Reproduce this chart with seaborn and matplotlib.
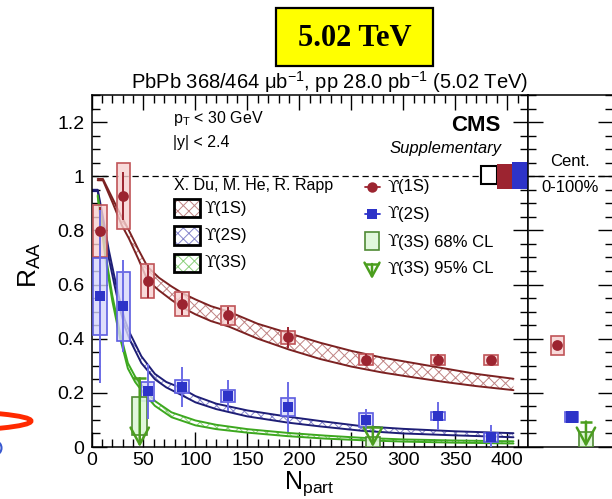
import numpy as np
import pandas as pd
import matplotlib
matplotlib.use("Agg")
import matplotlib.pyplot as plt
import seaborn as sns
from matplotlib.patches import Rectangle, Ellipse
from matplotlib.lines import Line2D
from matplotlib.ticker import MultipleLocator, FuncFormatter

# ---------------- data ----------------
npart = [8.1, 30.6, 53.9, 86.9, 131.4, 189.2, 264.2, 333.3, 384.3]

raa_1s = [0.797, 0.927, 0.612, 0.528, 0.486, 0.405, 0.322, 0.322, 0.320]
stat_1s = [0.09, 0.09, 0.06, 0.04, 0.03, 0.039, 0.02, 0.02, 0.015]
syst_1s = [0.097, 0.122, 0.063, 0.046, 0.036, 0.025, 0.020, 0.018, 0.018]

raa_2s = [0.557, 0.520, 0.205, 0.223, 0.190, 0.149, 0.100, 0.115, 0.036]
stat_2s = [0.32, 0.17, 0.10, 0.074, 0.057, 0.092, 0.042, 0.052, 0.045]
syst_2s = [0.142, 0.127, 0.034, 0.024, 0.022, 0.033, 0.027, 0.016, 0.016]

# Upsilon(3S): 68% CL intervals and 95% CL upper limits
npart_3s = [46.4, 270.7]
cl68_lo_3s = [0.044, 0.0]
cl68_hi_3s = [0.184, 0.036]
cl95_3s = [0.254, 0.075]

# Centrality-integrated (0-100%)
int_states = ["1S", "2S", "3S"]
int_raa = [0.376, 0.112]
int_stat = [0.012, 0.012]
int_syst = [0.035, 0.018]
int_cl68_hi_3s = 0.057
int_cl95_3s = 0.094

# Global uncertainties around unity: pp, 1S, 2S
glob_lo = [0.973, 0.954, 0.954]
glob_hi = [1.036, 1.044, 1.051]

# Du, He, Rapp transport model bands
th1_n = [6, 11, 20, 29, 36, 45, 54, 65, 77, 88, 100, 115, 132, 160, 190, 220, 250, 280, 310, 340, 370, 406]
th1_hi = [0.99, 0.99, 0.92, 0.85, 0.80, 0.73, 0.665, 0.625, 0.593, 0.567, 0.545, 0.52, 0.50,
          0.455, 0.42, 0.385, 0.355, 0.33, 0.31, 0.29, 0.27, 0.252]
th1_lo = [0.985, 0.985, 0.905, 0.82, 0.77, 0.695, 0.615, 0.578, 0.543, 0.514, 0.49, 0.465, 0.445,
          0.40, 0.36, 0.325, 0.297, 0.275, 0.257, 0.24, 0.225, 0.21]

th2_n = [1, 6, 11, 16.5, 22, 27, 32, 37, 48, 61, 72, 85, 100, 120, 150, 189, 220, 260, 300, 350, 406]
th2_hi = [0.95, 0.95, 0.85, 0.73, 0.63, 0.545, 0.47, 0.42, 0.335, 0.27, 0.24, 0.22, 0.188,
          0.16, 0.135, 0.112, 0.096, 0.077, 0.067, 0.058, 0.051]
th2_lo = [0.945, 0.945, 0.82, 0.70, 0.60, 0.515, 0.445, 0.395, 0.31, 0.25, 0.22, 0.195, 0.165,
          0.14, 0.113, 0.09, 0.076, 0.06, 0.05, 0.043, 0.036]

th3_n = [6, 10, 14, 20, 27, 35, 42, 48, 55, 61, 77, 100, 120, 150, 189, 225, 260, 300, 350, 406]
th3_hi = [0.93, 0.82, 0.70, 0.56, 0.43, 0.31, 0.26, 0.23, 0.195, 0.17, 0.128, 0.098, 0.082,
          0.066, 0.052, 0.042, 0.034, 0.028, 0.024, 0.021]
th3_lo = [0.925, 0.80, 0.68, 0.54, 0.41, 0.29, 0.24, 0.21, 0.178, 0.152, 0.11, 0.08, 0.066,
          0.053, 0.04, 0.031, 0.025, 0.02, 0.016, 0.013]

# ---------------- style ----------------
sns.set_theme(style="ticks")
plt.rcParams["font.family"] = ["Liberation Sans", "DejaVu Sans"]
plt.rcParams["mathtext.fontset"] = "custom"
plt.rcParams["mathtext.rm"] = "Liberation Sans"
plt.rcParams["mathtext.it"] = "Liberation Sans:italic"
plt.rcParams["hatch.linewidth"] = 0.7
plt.rcParams["axes.edgecolor"] = "black"
plt.rcParams["xtick.color"] = "black"
plt.rcParams["ytick.color"] = "black"
plt.rcParams["text.color"] = "black"

RED = "#9c2430"
RED_FC = (0.97, 0.82, 0.82, 0.8)
RED_EC = "#c05458"
RED_BAND = "#7c2222"
RED_HATCH = "#c08484"
BLUE = "#2d33c8"
BLUE_FC = (0.84, 0.84, 0.98, 0.8)
BLUE_EC = "#5c5ce0"
BLUE_STAT = "#6b6be6"
BLUE_BAND = "#1e1e76"
BLUE_HATCH = "#8585cc"
GREEN = "#4b9e1e"
GREEN_FC = (0.87, 0.97, 0.85, 0.9)
GREEN_EC = "#4f8a34"
GREEN_BAND = "#3da81f"
GREEN_HATCH = "#8cd07c"

W, H = 612, 499
fig = plt.figure(figsize=(W / 100, H / 100), dpi=100)
fig.patch.set_facecolor("white")


def fpos(x, y):
    return x / W, 1 - y / H


def ftext(x, y, s, **kw):
    fx, fy = fpos(x, y)
    return fig.text(fx, fy, s, **kw)


def upsilon_text(x, y, rest, size=12):
    # curly Upsilon in a serif face followed by the state label
    ftext(x, y, "ϒ", family="DejaVu Serif", va="center", fontsize=size)
    ftext(x + 0.9 * size, y, rest, va="center", fontsize=size)


ax = fig.add_axes([91.5 / W, 1 - 447 / H, (528 - 91.5) / W, (447 - 95) / H])
axr = fig.add_axes([528 / W, 1 - 447 / H, (612.5 - 528) / W, (447 - 95) / H])
for a in (ax, axr):
    a.set_facecolor("white")
    for sp in a.spines.values():
        sp.set_linewidth(1.1)
        sp.set_color("black")
        sp.set_visible(True)

# ---------------- main panel ----------------
ax.set_xlim(0, 420)
ax.set_ylim(0, 1.3)


def band(n, lo, hi, edge, hatchc):
    ax.fill_between(n, lo, hi, facecolor="none", edgecolor=hatchc, hatch="xxx",
                    linewidth=0, zorder=2)
    sns.lineplot(x=n, y=hi, ax=ax, color=edge, lw=1.4, zorder=2.5, estimator=None, sort=False)
    sns.lineplot(x=n, y=lo, ax=ax, color=edge, lw=1.4, zorder=2.5, estimator=None, sort=False)


band(th1_n, th1_lo, th1_hi, RED_BAND, RED_HATCH)
band(th2_n, th2_lo, th2_hi, BLUE_BAND, BLUE_HATCH)
band(th3_n, th3_lo, th3_hi, GREEN_BAND, GREEN_HATCH)

ax.axhline(1.0, color="black", lw=0.9, ls=(0, (5, 3)), zorder=1)

# systematic boxes
r1 = np.array(raa_1s); s1 = np.array(syst_1s)
r2 = np.array(raa_2s); s2 = np.array(syst_2s)
ax.bar(npart, 2 * s1, bottom=r1 - s1, width=13, color=RED_FC, edgecolor=RED_EC, linewidth=1.2, zorder=3)
ax.bar(npart, 2 * s2, bottom=r2 - s2, width=13, color=BLUE_FC, edgecolor=BLUE_EC, linewidth=1.2, zorder=3)

# statistical errors
ax.errorbar(npart, raa_1s, yerr=stat_1s, fmt="none", ecolor=RED, elinewidth=1.4, capsize=0, zorder=4)
ax.errorbar(npart, raa_2s, yerr=stat_2s, fmt="none", ecolor=BLUE_STAT, elinewidth=1.4, capsize=0, zorder=4)

df1 = pd.DataFrame({"npart": npart, "raa": raa_1s})
df2 = pd.DataFrame({"npart": npart, "raa": raa_2s})
sns.scatterplot(data=df1, x="npart", y="raa", ax=ax, marker="o", s=60, color=RED,
                linewidth=0, zorder=5, legend=False)
sns.scatterplot(data=df2, x="npart", y="raa", ax=ax, marker="s", s=50, color=BLUE,
                linewidth=0, zorder=5, legend=False)

# Upsilon(3S) limits
lo3 = np.array(cl68_lo_3s); hi3 = np.array(cl68_hi_3s)
ax.bar(npart_3s, hi3 - lo3, bottom=lo3, width=14, color=GREEN_FC, edgecolor=GREEN_EC,
       linewidth=1.2, zorder=3)
arrow_style = "->,head_length=0.55,head_width=0.3"
for n, lim in zip(npart_3s, cl95_3s):
    ax.annotate("", xy=(n, 0), xytext=(n, lim),
                arrowprops=dict(arrowstyle=arrow_style, color=GREEN, lw=1.8,
                                shrinkA=0, shrinkB=0, mutation_scale=22), zorder=6)
    ax.hlines(lim, n - 6.5, n + 6.5, color=GREEN, lw=1.8, zorder=6)

# global uncertainty boxes at unity
gw = 15
gx = [420 - gw * (len(glob_lo) - i - 0.5) for i in range(len(glob_lo))]
glo = np.array(glob_lo); ghi = np.array(glob_hi)
ax.bar(gx, ghi - glo, bottom=glo, width=gw, color=["white", RED, BLUE],
       edgecolor=["black", RED, BLUE], linewidth=[1.5, 0, 0], zorder=6, clip_on=False)

ax.xaxis.set_major_locator(MultipleLocator(50))
ax.xaxis.set_minor_locator(MultipleLocator(10))
ax.yaxis.set_major_locator(MultipleLocator(0.2))
ax.yaxis.set_minor_locator(MultipleLocator(0.05))
ax.yaxis.set_major_formatter(FuncFormatter(lambda v, p: f"{v:g}"))
ax.tick_params(axis="both", which="major", direction="in", length=11, width=1,
               top=True, right=True, labelsize=14)
ax.tick_params(axis="both", which="minor", direction="in", length=6, width=1,
               top=True, right=True)
ax.tick_params(axis="y", which="major", pad=5)
ax.tick_params(axis="x", which="major", pad=3.5)
ax.set_xlabel("")
ax.set_ylabel("")

# ---------------- integrated panel ----------------
axr.set_ylim(0, 1.3)
axr.set_xlim(-2.04, 3.85)
axr.axhline(1.0, color="black", lw=0.9, ls=(0, (5, 3)), zorder=1)
xi = np.arange(len(int_raa))
ri = np.array(int_raa); si = np.array(int_syst)
axr.bar(xi, 2 * si, bottom=ri - si, width=0.92, color=[RED_FC, BLUE_FC],
        edgecolor=[RED_EC, BLUE_EC], linewidth=1.2, zorder=3)
axr.errorbar(xi, int_raa, yerr=int_stat, fmt="none", ecolor=[RED, BLUE_STAT],
             elinewidth=1.4, capsize=0, zorder=4)
sns.scatterplot(x=[xi[0]], y=[int_raa[0]], ax=axr, marker="o", s=60, color=RED,
                linewidth=0, zorder=5, legend=False)
sns.scatterplot(x=[xi[1]], y=[int_raa[1]], ax=axr, marker="s", s=75, color=BLUE,
                linewidth=0, zorder=5, legend=False)
x3 = int_states.index("3S")
axr.bar([x3], [int_cl68_hi_3s], bottom=[0], width=0.95, color=GREEN_FC, edgecolor=GREEN_EC,
        linewidth=1.2, zorder=3)
axr.annotate("", xy=(x3, 0), xytext=(x3, int_cl95_3s),
             arrowprops=dict(arrowstyle=arrow_style, color=GREEN, lw=1.8,
                             shrinkA=0, shrinkB=0, mutation_scale=22), zorder=6)
axr.hlines(int_cl95_3s, x3 - 0.42, x3 + 0.42, color=GREEN, lw=1.8, zorder=6)

axr.yaxis.set_major_locator(MultipleLocator(0.2))
axr.yaxis.set_minor_locator(MultipleLocator(0.05))
axr.set_xticks([])
axr.tick_params(axis="y", which="major", direction="in", length=11, width=1,
                left=True, right=True, labelleft=False)
axr.tick_params(axis="y", which="minor", direction="in", length=6, width=1,
                left=True, right=True)
axr.set_xlabel("")
axr.set_ylabel("")

ftext(570, 162, "Cent.", ha="center", va="center", fontsize=12)
ftext(570.5, 187, "0-100%", ha="center", va="center", fontsize=12)

# ---------------- titles and labels ----------------
fig.add_artist(Rectangle(fpos(276, 66), 157 / W, 58 / H, transform=fig.transFigure,
                         facecolor="#ffff00", edgecolor="black", lw=1.6))
ftext(354.5, 38, "5.02 TeV", family="Liberation Serif", weight="bold", fontsize=22,
      ha="center", va="center")
ftext(528, 89, "PbPb 368/464 μb$^{-1}$, pp 28.0 pb$^{-1}$ (5.02 TeV)", ha="right",
      va="baseline", fontsize=14.5)

ftext(30, 265, "R$_{\\mathrm{AA}}$", rotation=90, ha="center", va="center", fontsize=19)
ftext(309, 498.5, "N$_{\\mathrm{part}}$", ha="center", va="bottom", fontsize=18)

ftext(173, 123, "p$_{\\mathrm{T}}$ < 30 GeV", va="baseline", fontsize=11.5)
ftext(173, 147, "|y| < 2.4", va="baseline", fontsize=11.5)
ftext(500, 131, "CMS", weight="bold", fontsize=16, ha="right", va="baseline")
ftext(502, 153, "Supplementary", style="italic", fontsize=12, ha="right", va="baseline")

# model legend
ftext(174, 190, "X. Du, M. He, R. Rapp", va="baseline", fontsize=11.5)
model_rows = [("(1S)", RED_HATCH, 199.5), ("(2S)", BLUE_HATCH, 226.5), ("(3S)", GREEN_HATCH, 253.5)]
for label, hc, ytop in model_rows:
    fig.add_artist(Rectangle(fpos(174, ytop + 18), 25.5 / W, 18 / H, transform=fig.transFigure,
                             facecolor="white", edgecolor=hc, hatch="xxx", lw=0))
    fig.add_artist(Rectangle(fpos(174, ytop + 18), 25.5 / W, 18 / H, transform=fig.transFigure,
                             facecolor="none", edgecolor="black", lw=2))
    upsilon_text(204, ytop + 9, label)

# data legend
for y, col, mk, ms in [(186.7, RED, "o", 7.5), (214.3, BLUE, "s", 7)]:
    fx0, fy0 = fpos(365, y)
    fx1, _ = fpos(380, y)
    fxm, _ = fpos(372, y)
    fig.add_artist(Line2D([fx0, fx1], [fy0, fy0], color=col, lw=1.3, transform=fig.transFigure))
    fig.add_artist(Line2D([fxm], [fy0], marker=mk, markersize=ms, color=col, lw=0,
                          markeredgewidth=0, transform=fig.transFigure))
fig.add_artist(Rectangle(fpos(365, 250), 14 / W, 18.3 / H, transform=fig.transFigure,
                         facecolor=GREEN_FC, edgecolor=GREEN_EC, lw=1.2))
ax.annotate("", xy=(372, H - 279), xytext=(372, H - 264), xycoords="figure pixels",
            textcoords="figure pixels",
            arrowprops=dict(arrowstyle=arrow_style, color=GREEN, lw=1.8,
                            shrinkA=0, shrinkB=0, mutation_scale=18))
fx0, fy0 = fpos(366, 264)
fx1, _ = fpos(378, 264)
fig.add_artist(Line2D([fx0, fx1], [fy0, fy0], color=GREEN, lw=1.8, transform=fig.transFigure))
for y, s in [(187, "(1S)"), (214, "(2S)"), (242, "(3S) 68% CL"), (269, "(3S) 95% CL")]:
    upsilon_text(387, y, s)

# hand-drawn highlight at the lower left
fig.add_artist(Ellipse(fpos(-70, 421), 202 / W, 20 / H, transform=fig.transFigure,
                       fill=False, edgecolor="#ff2a00", lw=3.5))
fig.add_artist(Ellipse(fpos(-3, 448), 9 / W, 12 / H, transform=fig.transFigure,
                       fill=False, edgecolor="#3a5ad0", lw=1.5))

fig.savefig("out.png", dpi=100)
